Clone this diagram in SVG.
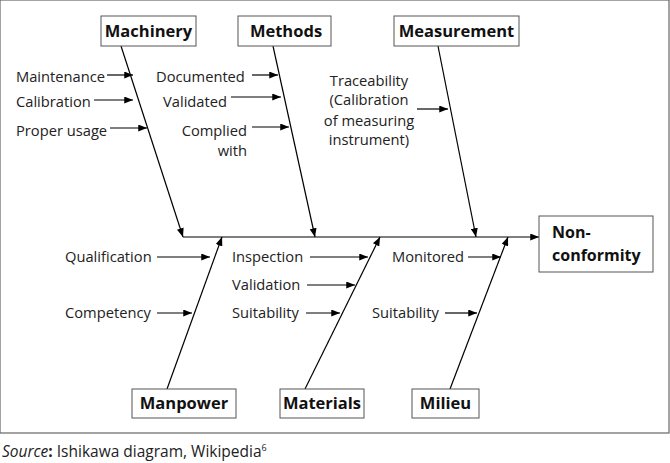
<svg xmlns="http://www.w3.org/2000/svg" width="670" height="463" viewBox="0 0 670 463">
<defs>
<marker id="ah" viewBox="0 0 10 8" refX="10" refY="4" markerWidth="9" markerHeight="7" markerUnits="userSpaceOnUse" orient="auto">
<path d="M0,0 L10,4 L0,8 z" fill="#000"/>
</marker>
</defs>
<style>
.frame{fill:#fff;stroke:#666;stroke-width:1.2}
.box{fill:#fff;stroke:#555;stroke-width:1}
.lbl{font-family:"Open Sans","Liberation Sans",sans-serif;font-weight:bold;font-size:16.5px;fill:#111;text-anchor:middle}
.t{font-family:"Open Sans","Liberation Sans",sans-serif;font-size:14.7px;fill:#222}
.e{text-anchor:end}
.m{text-anchor:middle}
.ln{stroke:#000;stroke-width:1.2;fill:none;marker-end:url(#ah)}
</style>
<rect x="0" y="0" width="669" height="433" class="frame"/>
<g id="connectors">
<line class="ln" x1="183" y1="237" x2="539" y2="237"/>
<line class="ln" x1="121" y1="46" x2="183" y2="237"/>
<line class="ln" x1="273" y1="46" x2="315" y2="237"/>
<line class="ln" x1="438" y1="46" x2="476" y2="237"/>
<line class="ln" x1="167" y1="389" x2="222" y2="237"/>
<line class="ln" x1="305" y1="389" x2="380" y2="237"/>
<line class="ln" x1="450" y1="389" x2="508" y2="237"/>
<line class="ln" x1="107" y1="75" x2="133" y2="75"/>
<line class="ln" x1="94" y1="100" x2="133" y2="100"/>
<line class="ln" x1="110" y1="128" x2="147" y2="128"/>
<line class="ln" x1="252" y1="75" x2="278" y2="75"/>
<line class="ln" x1="231" y1="97" x2="281" y2="97"/>
<line class="ln" x1="252" y1="127" x2="289" y2="127"/>
<line class="ln" x1="417" y1="109" x2="448" y2="109"/>
<line class="ln" x1="157" y1="257" x2="210" y2="257"/>
<line class="ln" x1="157" y1="313" x2="192" y2="313"/>
<line class="ln" x1="310" y1="257" x2="368" y2="257"/>
<line class="ln" x1="307" y1="285" x2="355" y2="285"/>
<line class="ln" x1="306" y1="313" x2="340" y2="313"/>
<line class="ln" x1="468" y1="257" x2="501" y2="257"/>
<line class="ln" x1="445" y1="313" x2="477" y2="313"/>
</g>
<g id="machinery"><rect class="box" x="101" y="16" width="95" height="30"/><text class="lbl" x="148.5" y="37">Machinery</text></g>
<g id="methods"><rect class="box" x="238" y="16" width="93" height="30"/><text class="lbl" x="286" y="37">Methods</text></g>
<g id="measurement"><rect class="box" x="394" y="16" width="125" height="30"/><text class="lbl" x="456.5" y="37">Measurement</text></g>
<g id="nonconformity"><rect class="box" x="539" y="216" width="114" height="56"/><text class="lbl" x="552" y="238" style="text-anchor:start;font-size:16px">Non-</text><text class="lbl" x="552" y="261" style="text-anchor:start;font-size:16px">conformity</text></g>
<g id="manpower"><rect class="box" x="132" y="389" width="104" height="29"/><text class="lbl" x="184" y="409">Manpower</text></g>
<g id="materials"><rect class="box" x="280" y="389" width="84" height="29"/><text class="lbl" x="322" y="409">Materials</text></g>
<g id="milieu"><rect class="box" x="412" y="389" width="67" height="29"/><text class="lbl" x="445.5" y="409">Milieu</text></g>
<g id="causes">
<text class="t" x="16" y="82">Maintenance</text>
<text class="t" x="16" y="107">Calibration</text>
<text class="t" x="16" y="136">Proper usage</text>
<text class="t" x="156" y="82">Documented</text>
<text class="t" x="163" y="107">Validated</text>
<text class="t e" x="247" y="136">Complied</text>
<text class="t e" x="247" y="156">with</text>
<text class="t m" x="369" y="86">Traceability</text>
<text class="t m" x="369" y="105">(Calibration</text>
<text class="t m" x="369" y="126">of measuring</text>
<text class="t m" x="369" y="145">instrument)</text>
<text class="t" x="65" y="262">Qualification</text>
<text class="t" x="65" y="318">Competency</text>
<text class="t" x="232" y="262">Inspection</text>
<text class="t" x="232" y="290">Validation</text>
<text class="t" x="232" y="318">Suitability</text>
<text class="t" x="392" y="262">Monitored</text>
<text class="t" x="372" y="318">Suitability</text>
</g>
<text class="t" x="2" y="457" style="font-size:15.5px"><tspan font-style="italic">Source</tspan><tspan font-weight="bold">:</tspan> Ishikawa diagram, Wikipedia<tspan font-size="9" dy="-6">6</tspan></text>
</svg>
